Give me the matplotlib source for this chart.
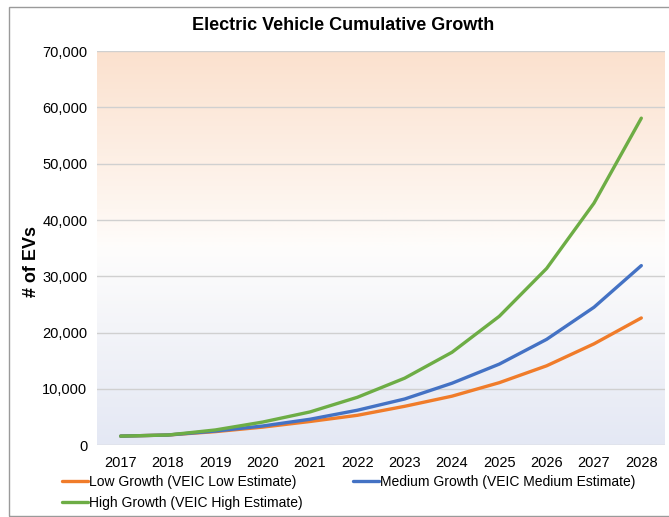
import numpy as np
import matplotlib.pyplot as plt
from matplotlib.colors import LinearSegmentedColormap
from matplotlib.patches import Rectangle

plt.rcParams['font.family'] = ['Liberation Sans', 'DejaVu Sans']

# data
years = [2017, 2018, 2019, 2020, 2021, 2022, 2023, 2024, 2025, 2026, 2027, 2028]
low = [1600, 1800, 2400, 3200, 4200, 5300, 6900, 8700, 11100, 14100, 18000, 22600]
medium = [1600, 1800, 2500, 3400, 4600, 6200, 8200, 11000, 14400, 18800, 24500, 31900]
high = [1600, 1800, 2700, 4100, 5900, 8500, 11900, 16500, 22900, 31400, 43000, 58100]
labels = ['Low Growth (VEIC Low Estimate)',
          'Medium Growth (VEIC Medium Estimate)',
          'High Growth (VEIC High Estimate)']
colors = ['#F07C2A', '#4472C4', '#6DAD45']

fig = plt.figure(figsize=(6.69, 5.17), dpi=100)
ax = fig.add_axes([0.145, 0.139, 0.849, 0.762])

# gradient background: peach at top, white in the middle, pale blue at bottom
cmap = LinearSegmentedColormap.from_list(
    'bg', [(0, '#E4E8F4'), (0.5, '#FEFDFC'), (0.6, '#FEF6F0'), (1, '#FBE1CE')])
grad = np.linspace(0, 1, 256).reshape(-1, 1)
ax.imshow(grad, aspect='auto', cmap=cmap, origin='lower',
          extent=[0, 1, 0, 1], transform=ax.transAxes, zorder=0)

lines = []
for vals, lab, c in zip([low, medium, high], labels, colors):
    ln, = ax.plot(years, vals, color=c, lw=2.4, label=lab, zorder=3,
                  solid_capstyle='round')
    lines.append(ln)

ax.set_xlim(2016.5, 2028.5)
ax.set_ylim(0, 70000)
ax.set_xticks(years)
ax.set_yticks(range(0, 70001, 10000))
ax.set_yticklabels([f'{v:,}' for v in range(0, 70001, 10000)])
ax.grid(axis='y', color='#D0D0D0', lw=1, zorder=1)
ax.set_axisbelow(True)
for s in ax.spines.values():
    s.set_visible(False)
ax.tick_params(axis='x', length=0, labelsize=10.5, pad=8)
ax.tick_params(axis='y', length=0, labelsize=10.5, pad=7)
ax.set_ylabel('# of EVs', fontsize=13, fontweight='bold')
ax.yaxis.set_label_coords(-0.1, 0.465)
fig.suptitle('Electric Vehicle Cumulative Growth', fontsize=13,
             fontweight='bold', x=0.513, y=0.968)

# order so that row 1 = Low, Medium; row 2 = High
fig.legend([lines[0], lines[2], lines[1]], [labels[0], labels[2], labels[1]],
           loc='upper left', bbox_to_anchor=(0.0927, 0.081), ncol=2,
           frameon=False, fontsize=10, handlelength=1.9, handletextpad=0.05,
           columnspacing=3.6, labelspacing=0.5, borderpad=0, borderaxespad=0)

fig.patches.append(Rectangle((0.013, 0.002), 0.99, 0.985, transform=fig.transFigure,
                             fill=False, ec='#9A9A9A', lw=1))

fig.savefig('out.png', dpi=100)
